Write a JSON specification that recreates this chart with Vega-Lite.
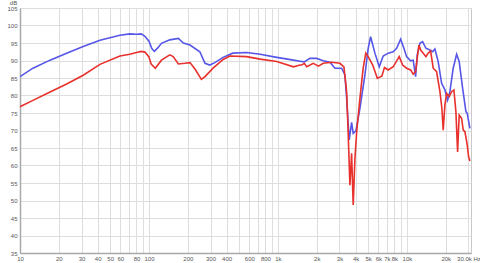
{
  "$schema": "https://vega.github.io/schema/vega-lite/v6.json",
  "width": 451,
  "height": 245,
  "autosize": {"type": "none"},
  "padding": {"left": 20, "top": 8, "right": 9, "bottom": 10},
  "background": "white",
  "config": {
    "view": {"stroke": "#c8c8c8", "strokeWidth": 1},
    "font": "Liberation Sans",
    "axis": {
      "gridColor": "#dedede",
      "gridWidth": 1,
      "domainColor": "#a8a8a8",
      "domainWidth": 1.5,
      "ticks": false,
      "labelFontSize": 6,
      "labelColor": "#555555",
      "labelFont": "Liberation Sans"
    }
  },
  "datasets": {
    "resp": [
      {"s": "blue", "f": 10, "db": 85.4},
      {"s": "blue", "f": 12.6, "db": 87.8},
      {"s": "blue", "f": 17.1, "db": 90.1},
      {"s": "blue", "f": 23, "db": 92.1},
      {"s": "blue", "f": 30.9, "db": 94.0},
      {"s": "blue", "f": 41.7, "db": 95.8},
      {"s": "blue", "f": 59.5, "db": 97.2},
      {"s": "blue", "f": 71, "db": 97.6},
      {"s": "blue", "f": 80, "db": 97.5},
      {"s": "blue", "f": 87, "db": 97.6},
      {"s": "blue", "f": 93, "db": 96.9},
      {"s": "blue", "f": 100, "db": 95.5},
      {"s": "blue", "f": 105, "db": 93.5},
      {"s": "blue", "f": 110, "db": 92.6},
      {"s": "blue", "f": 117, "db": 93.6},
      {"s": "blue", "f": 125, "db": 94.9},
      {"s": "blue", "f": 145, "db": 95.9},
      {"s": "blue", "f": 169, "db": 96.3},
      {"s": "blue", "f": 185, "db": 95.0},
      {"s": "blue", "f": 208, "db": 94.4},
      {"s": "blue", "f": 248, "db": 92.5},
      {"s": "blue", "f": 272, "db": 89.2},
      {"s": "blue", "f": 296, "db": 88.7},
      {"s": "blue", "f": 324, "db": 89.4},
      {"s": "blue", "f": 376, "db": 90.9},
      {"s": "blue", "f": 446, "db": 92.1},
      {"s": "blue", "f": 571, "db": 92.3},
      {"s": "blue", "f": 728, "db": 91.8},
      {"s": "blue", "f": 979, "db": 90.9},
      {"s": "blue", "f": 1320, "db": 90.1},
      {"s": "blue", "f": 1482, "db": 89.8},
      {"s": "blue", "f": 1600, "db": 89.6},
      {"s": "blue", "f": 1771, "db": 90.6},
      {"s": "blue", "f": 1995, "db": 90.6},
      {"s": "blue", "f": 2245, "db": 89.9},
      {"s": "blue", "f": 2530, "db": 89.5},
      {"s": "blue", "f": 2766, "db": 87.8},
      {"s": "blue", "f": 3117, "db": 87.8},
      {"s": "blue", "f": 3306, "db": 85.9},
      {"s": "blue", "f": 3409, "db": 79.2},
      {"s": "blue", "f": 3570, "db": 67.3},
      {"s": "blue", "f": 3726, "db": 72.3},
      {"s": "blue", "f": 3834, "db": 69.2},
      {"s": "blue", "f": 4024, "db": 69.9},
      {"s": "blue", "f": 4322, "db": 76.3},
      {"s": "blue", "f": 4725, "db": 85.9},
      {"s": "blue", "f": 5012, "db": 93.5},
      {"s": "blue", "f": 5231, "db": 96.8},
      {"s": "blue", "f": 5648, "db": 92.1},
      {"s": "blue", "f": 6101, "db": 88.2},
      {"s": "blue", "f": 6549, "db": 91.3},
      {"s": "blue", "f": 7161, "db": 92.1},
      {"s": "blue", "f": 7832, "db": 92.5},
      {"s": "blue", "f": 8323, "db": 93.5},
      {"s": "blue", "f": 8938, "db": 96.1},
      {"s": "blue", "f": 9478, "db": 93.5},
      {"s": "blue", "f": 9947, "db": 91.1},
      {"s": "blue", "f": 10683, "db": 89.9},
      {"s": "blue", "f": 11190, "db": 90.1},
      {"s": "blue", "f": 11680, "db": 85.4},
      {"s": "blue", "f": 12020, "db": 91.6},
      {"s": "blue", "f": 12613, "db": 94.9},
      {"s": "blue", "f": 13232, "db": 95.4},
      {"s": "blue", "f": 14040, "db": 93.5},
      {"s": "blue", "f": 15080, "db": 93.0},
      {"s": "blue", "f": 15820, "db": 92.5},
      {"s": "blue", "f": 16488, "db": 93.3},
      {"s": "blue", "f": 17480, "db": 89.7},
      {"s": "blue", "f": 18580, "db": 83.5},
      {"s": "blue", "f": 19710, "db": 81.6},
      {"s": "blue", "f": 20680, "db": 78.7},
      {"s": "blue", "f": 21544, "db": 81.1},
      {"s": "blue", "f": 22850, "db": 87.8},
      {"s": "blue", "f": 24290, "db": 91.8},
      {"s": "blue", "f": 25430, "db": 89.7},
      {"s": "blue", "f": 27030, "db": 82.1},
      {"s": "blue", "f": 28680, "db": 75.4},
      {"s": "blue", "f": 29350, "db": 74.9},
      {"s": "blue", "f": 30790, "db": 70.6},

      {"s": "red", "f": 10, "db": 76.8},
      {"s": "red", "f": 12.6, "db": 78.6},
      {"s": "red", "f": 17.1, "db": 81.0},
      {"s": "red", "f": 23, "db": 83.3},
      {"s": "red", "f": 30.9, "db": 85.8},
      {"s": "red", "f": 41.7, "db": 88.9},
      {"s": "red", "f": 59.5, "db": 91.3},
      {"s": "red", "f": 71, "db": 91.8},
      {"s": "red", "f": 80, "db": 92.3},
      {"s": "red", "f": 87, "db": 92.6},
      {"s": "red", "f": 93, "db": 92.4},
      {"s": "red", "f": 100, "db": 91.0},
      {"s": "red", "f": 104, "db": 89.0},
      {"s": "red", "f": 112, "db": 87.8},
      {"s": "red", "f": 125, "db": 90.1},
      {"s": "red", "f": 145, "db": 91.6},
      {"s": "red", "f": 154, "db": 91.1},
      {"s": "red", "f": 169, "db": 89.0},
      {"s": "red", "f": 190, "db": 89.2},
      {"s": "red", "f": 208, "db": 89.4},
      {"s": "red", "f": 228, "db": 87.5},
      {"s": "red", "f": 255, "db": 84.6},
      {"s": "red", "f": 272, "db": 85.4},
      {"s": "red", "f": 314, "db": 87.8},
      {"s": "red", "f": 376, "db": 90.3},
      {"s": "red", "f": 424, "db": 91.3},
      {"s": "red", "f": 571, "db": 91.1},
      {"s": "red", "f": 728, "db": 90.4},
      {"s": "red", "f": 979, "db": 89.7},
      {"s": "red", "f": 1320, "db": 88.2},
      {"s": "red", "f": 1482, "db": 88.7},
      {"s": "red", "f": 1530, "db": 88.7},
      {"s": "red", "f": 1600, "db": 89.2},
      {"s": "red", "f": 1670, "db": 88.2},
      {"s": "red", "f": 1880, "db": 89.2},
      {"s": "red", "f": 2060, "db": 88.4},
      {"s": "red", "f": 2245, "db": 89.2},
      {"s": "red", "f": 2620, "db": 89.5},
      {"s": "red", "f": 3024, "db": 89.2},
      {"s": "red", "f": 3248, "db": 88.2},
      {"s": "red", "f": 3409, "db": 81.1},
      {"s": "red", "f": 3500, "db": 69.7},
      {"s": "red", "f": 3615, "db": 54.4},
      {"s": "red", "f": 3726, "db": 63.5},
      {"s": "red", "f": 3834, "db": 48.7},
      {"s": "red", "f": 3953, "db": 62.0},
      {"s": "red", "f": 4080, "db": 69.7},
      {"s": "red", "f": 4322, "db": 79.2},
      {"s": "red", "f": 4580, "db": 87.8},
      {"s": "red", "f": 4800, "db": 92.1},
      {"s": "red", "f": 5012, "db": 91.1},
      {"s": "red", "f": 5430, "db": 88.7},
      {"s": "red", "f": 5900, "db": 84.9},
      {"s": "red", "f": 6400, "db": 85.6},
      {"s": "red", "f": 6700, "db": 88.0},
      {"s": "red", "f": 7161, "db": 87.3},
      {"s": "red", "f": 7832, "db": 88.2},
      {"s": "red", "f": 8716, "db": 91.1},
      {"s": "red", "f": 9263, "db": 88.7},
      {"s": "red", "f": 9947, "db": 87.8},
      {"s": "red", "f": 10683, "db": 87.3},
      {"s": "red", "f": 11190, "db": 86.1},
      {"s": "red", "f": 11680, "db": 86.8},
      {"s": "red", "f": 12020, "db": 90.6},
      {"s": "red", "f": 12390, "db": 94.4},
      {"s": "red", "f": 12770, "db": 93.0},
      {"s": "red", "f": 13380, "db": 92.1},
      {"s": "red", "f": 14040, "db": 91.1},
      {"s": "red", "f": 14630, "db": 92.1},
      {"s": "red", "f": 15270, "db": 92.7},
      {"s": "red", "f": 15990, "db": 87.8},
      {"s": "red", "f": 16990, "db": 86.8},
      {"s": "red", "f": 18030, "db": 81.1},
      {"s": "red", "f": 18680, "db": 76.3},
      {"s": "red", "f": 19110, "db": 70.1},
      {"s": "red", "f": 19710, "db": 77.3},
      {"s": "red", "f": 20320, "db": 80.6},
      {"s": "red", "f": 21280, "db": 79.7},
      {"s": "red", "f": 22210, "db": 81.1},
      {"s": "red", "f": 23140, "db": 81.6},
      {"s": "red", "f": 23980, "db": 75.4},
      {"s": "red", "f": 24720, "db": 63.9},
      {"s": "red", "f": 25430, "db": 74.4},
      {"s": "red", "f": 26550, "db": 73.5},
      {"s": "red", "f": 27320, "db": 70.1},
      {"s": "red", "f": 28160, "db": 69.7},
      {"s": "red", "f": 29350, "db": 65.9},
      {"s": "red", "f": 30090, "db": 62.5},
      {"s": "red", "f": 30790, "db": 61.3}
    ]
  },
  "data": {"name": "resp"},
  "encoding": {
    "x": {
      "field": "f",
      "type": "quantitative",
      "scale": {"type": "log", "domain": [10, 31400], "nice": false},
      "axis": {
        "title": null,
        "values": [10, 20, 30, 40, 50, 60, 70, 80, 90, 100, 200, 300, 400, 500, 600, 700, 800, 900, 1000, 2000, 3000, 4000, 5000, 6000, 7000, 8000, 9000, 10000, 20000, 30000],
        "labelExpr": "datum.value == 30000 ? '30.0k Hz' : (indexof([70, 90, 500, 700, 900, 9000], datum.value) >= 0 ? '' : (datum.value >= 1000 ? (datum.value / 1000) + 'k' : datum.value + ''))",
        "labelOverlap": false,
        "labelFlush": false,
        "labelPadding": 2,
        "grid": true
      }
    },
    "y": {
      "field": "db",
      "type": "quantitative",
      "scale": {"domain": [35, 105], "nice": false, "zero": false},
      "axis": {
        "title": "dB",
        "titleAngle": 0,
        "titleX": -7,
        "titleY": -3,
        "titleFontSize": 6,
        "titleFontWeight": "normal",
        "titleColor": "#555555",
        "titleAlign": "center",
        "titleBaseline": "bottom",
        "values": [35, 40, 45, 50, 55, 60, 65, 70, 75, 80, 85, 90, 95, 100, 105],
        "labelOverlap": false,
        "labelFlush": false,
        "labelPadding": 3,
        "grid": true
      }
    }
  },
  "layer": [
    {
      "transform": [{"filter": "datum.s == 'blue'"}],
      "mark": {"type": "line", "color": "#5656e8", "strokeWidth": 1.6, "clip": true}
    },
    {
      "transform": [{"filter": "datum.s == 'red'"}],
      "mark": {"type": "line", "color": "#e8302c", "strokeWidth": 1.6, "clip": true}
    }
  ]
}
